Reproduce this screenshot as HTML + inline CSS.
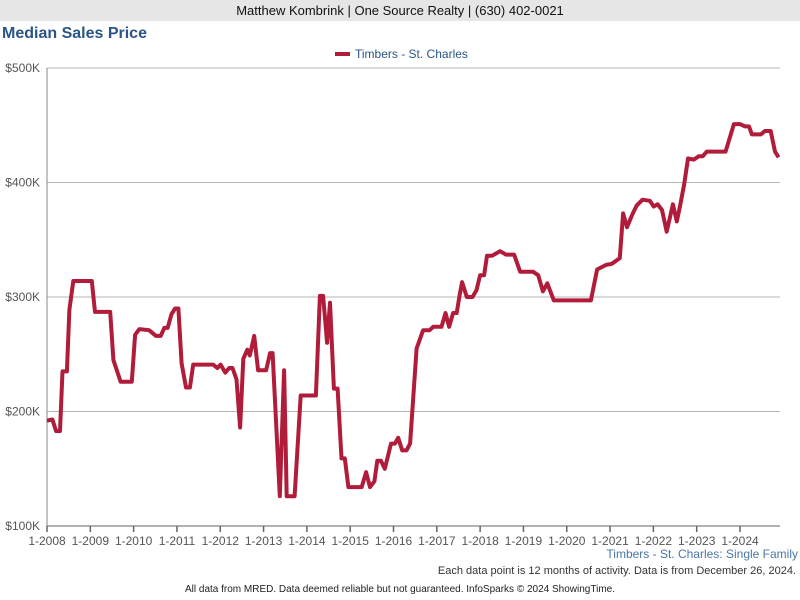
<!DOCTYPE html>
<html><head><meta charset="utf-8"><style>
body{margin:0;width:800px;height:600px;background:#fff;font-family:"Liberation Sans",sans-serif;overflow:hidden;position:relative}
.hdr{position:absolute;left:0;top:0;width:800px;height:21px;background:#e6e6e6;text-align:center;font-size:13px;line-height:21px;color:#111}
.title{position:absolute;left:2px;top:25px;font-size:16px;font-weight:bold;color:#2b5585}
.t{position:absolute;font-size:12px}
</style></head><body>
<div class="hdr">Matthew Kombrink | One Source Realty | (630) 402-0021</div>
<div class="title">Median Sales Price</div>
<svg width="800" height="600" style="position:absolute;left:0;top:0">
<g id="grid"></g><g id="axes"></g><g id="series"></g>
<g>
<line x1="335" y1="54" x2="350" y2="54" stroke="#b01c3a" stroke-width="4"/>
<text x="355" y="58" font-size="12" fill="#2b5585">Timbers - St. Charles</text>
</g>
</svg>
<div class="t" style="right:2px;top:547px;color:#4a76a8">Timbers - St. Charles: Single Family</div>
<div class="t" style="right:4px;top:565px;font-size:11px;color:#333">Each data point is 12 months of activity. Data is from December 26, 2024.</div>
<div class="t" style="left:0;width:800px;text-align:center;top:584px;font-size:10px;color:#222">All data from MRED. Data deemed reliable but not guaranteed. InfoSparks © 2024 ShowingTime.</div>
<script>
const months=[0,1.5,2.5,3.6,4.3,5.5,6.2,7.3,12.4,13.3,17.5,18.4,20.4,23.5,24.4,25.6,28.3,30.2,31.5,32.5,33.4,34.5,35.5,36.4,37.3,38.5,39.6,40.5,46,47.2,48.1,49.4,50.5,51.4,52.5,53.5,54.4,55.5,56.2,57.4,58.5,60.7,61.8,62.5,64.5,65.7,66.4,68.6,70.3,74.5,75.6,76.5,77.6,78.4,79.5,80.5,81.6,82.5,83.5,87.2,88.4,89.5,90.7,91.5,92.5,93.6,95.3,96.4,97.3,98.4,99.6,100.6,102.4,104.2,106,107,109.3,110.4,111.4,112.5,113.5,114.4,115,116.3,117.9,119,120,121.1,121.9,123.3,124.4,125.5,127.2,129.4,131.1,134.7,136.1,137.4,138.6,140.4,150.7,152.4,154.9,156.5,158.7,159.6,160.7,162.3,163.4,165,167,168.1,169.2,170.4,171.7,173.4,174.5,175.3,176.5,177.6,179.2,180.6,181.7,182.8,188,190.3,192,193.4,194.5,195.3,197.8,198.9,200.5,201.7,202.7];
const values=[192,193,183,183,235,235,289,314,314,287,287,245,226,226,267,272,271,266,266,273,273,285,290,290,242,221,221,241,241,238,241,234,238,238,228,186,246,254,249,266,236,236,251,251,126,236,126,126,214,214,301,301,260,295,220,220,159,159,134,134,147,134,139,157,157,150,172,172,177,166,166,172,255,271,271,274,274,286,274,286,286,303,313,300,300,306,319,319,336,336,338,340,337,337,322,322,319,305,312,297,297,324,328,329,334,373,361,373,380,385,384,379,381,376,357,381,366,378,398,421,420,423,423,427,427,451,451,449,449,442,442,445,445,427,422];
const yTicks=[100,200,300,400,500];
const yTickLabels=["$100K","$200K","$300K","$400K","$500K"];
const xTickYears=[2008,2009,2010,2011,2012,2013,2014,2015,2016,2017,2018,2019,2020,2021,2022,2023,2024];
const X0=47,X1=780,Y0=526,Y1=68;
const xs=m=>X0+m*(740-47)/192;
const ys=v=>Y0-(v-100)/400*(Y0-Y1);
const NS="http://www.w3.org/2000/svg";
function mk(tag,attrs,parent,txt){const e=document.createElementNS(NS,tag);for(const k in attrs)e.setAttribute(k,attrs[k]);if(txt!=null)e.textContent=txt;document.getElementById(parent).appendChild(e);return e;}
yTicks.forEach((v,i)=>{
 const l=mk('line',{x1:X0,x2:X1,y1:ys(v),y2:ys(v),stroke:i==0?'#666':'#b5b5b5','stroke-width':1},'grid');
 
 
 const t=mk('text',{x:40,y:ys(v)+4,'text-anchor':'end','font-size':12,fill:'#555'},'axes',yTickLabels[i]);
 
 
});
const ax=mk('line',{x1:X0,x2:X0,y1:Y1,y2:Y0,stroke:'#888'},'axes');


xTickYears.forEach(yr=>{
 const x=xs((yr-2008)*12);
 const tk=mk('line',{x1:x,x2:x,y1:Y0,y2:Y0+6,stroke:'#666','stroke-width':1.5},'axes');
 
 
 const t=mk('text',{x:x,y:545,'text-anchor':'middle','font-size':12,fill:'#555'},'axes','1-'+yr);
 
 
});
const d=months.map((m,i)=>(i?'L':'M')+xs(m).toFixed(1)+','+ys(values[i]).toFixed(1)).join('');
const p=mk('path',{d:d,fill:'none',stroke:'#b01c3a','stroke-width':4,'stroke-linejoin':'round'},'series');


</script>
</body></html>
